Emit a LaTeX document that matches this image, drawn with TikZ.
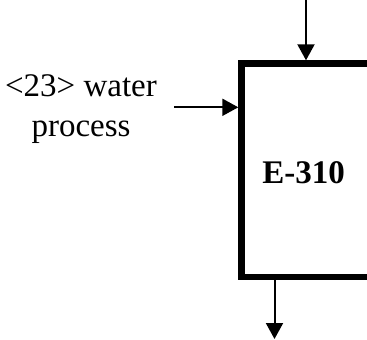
\documentclass[tikz,border=0pt]{standalone}
\usepackage{fontspec}
\setmainfont{Liberation Serif}
\usetikzlibrary{arrows.meta}
\begin{document}
\begin{tikzpicture}[x=1pt,y=-1pt,
  flow/.style={line width=2pt,-{Triangle[length=16pt,width=17pt]}},
  unit/.style={line width=6.5pt,line join=miter},
  lbl/.style={font=\fontsize{33}{40}\selectfont,align=center,inner sep=0pt},
  tag/.style={font=\fontsize{33}{38}\selectfont\bfseries,inner sep=0pt}]
\useasboundingbox (0,0) rectangle (367,340);
\draw[unit] (380,63.5) -- (241.5,63.5) -- (241.5,277) -- (380,277);
\coordinate (topin) at (306,0);
\coordinate (topend) at (306,60.3);
\coordinate (leftin) at (174,107.3);
\coordinate (leftend) at (238.3,107.3);
\coordinate (botstart) at (274.5,280.3);
\coordinate (botend) at (274.5,339);
\draw[flow] (topin) -- (topend);
\draw[flow] (leftin) -- (leftend);
\draw[flow] (botstart) -- (botend);
\node[lbl,anchor=base] (w1) at (81,96.7) {<23> water};
\node[lbl,anchor=base] (w2) at (81,136.7) {process};
\node[tag,anchor=base] (e) at (303.5,183.3) {E-310};
\end{tikzpicture}
\end{document}
